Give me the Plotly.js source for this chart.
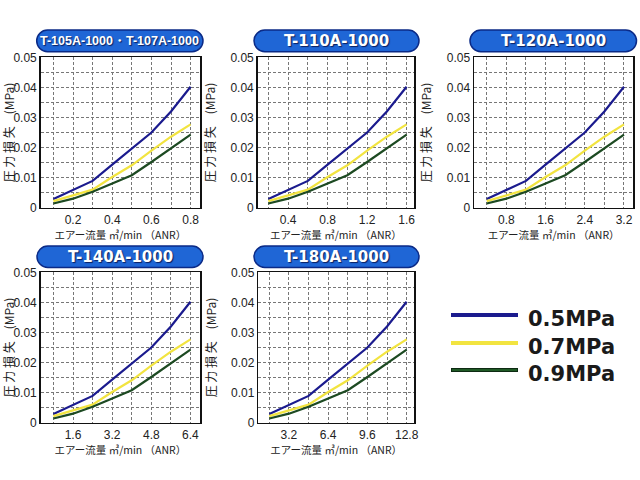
<!DOCTYPE html>
<html><head><meta charset="utf-8">
<script src="https://cdn.plot.ly/plotly-3.0.1.min.js"></script>
<style>html,body{margin:0;padding:0;background:#fff}#c{width:640px;height:480px}</style>
</head><body><div id="c"></div>
<script>
// Model names (titles of each panel)
const models = ["T-105A-1000・T-107A-1000", "T-110A-1000", "T-120A-1000", "T-140A-1000", "T-180A-1000"];
// Air flow (m3/min ANR) for each model
const flowT105 = [0.1, 0.2, 0.3, 0.4, 0.5, 0.6, 0.7, 0.8];
const flowT110 = [0.2, 0.4, 0.6, 0.8, 1.0, 1.2, 1.4, 1.6];
const flowT120 = [0.4, 0.8, 1.2, 1.6, 2.0, 2.4, 2.8, 3.2];
const flowT140 = [0.8, 1.6, 2.4, 3.2, 4.0, 4.8, 5.6, 6.4];
const flowT180 = [1.6, 3.2, 4.8, 6.4, 8.0, 9.6, 11.2, 12.8];
// Pressure loss (MPa) for each supply pressure
const loss05 = [0.0029, 0.0060, 0.0089, 0.0143, 0.0198, 0.0250, 0.0320, 0.0402];
const loss07 = [0.0022, 0.0042, 0.0060, 0.0102, 0.0141, 0.0190, 0.0236, 0.0277];
const loss09 = [0.0014, 0.0030, 0.0053, 0.0080, 0.0108, 0.0152, 0.0198, 0.0243];
const pressures = ["0.5MPa", "0.7MPa", "0.9MPa"];
// x tick spacing and axis ranges per model
const xTickStep = [0.2, 0.4, 0.8, 1.6, 3.2];
const xRanges = [[0.035, 0.848], [0.092, 1.675], [0.14, 3.39], [0.28, 6.79], [0.70, 13.4]];

const flows = [flowT105, flowT110, flowT120, flowT140, flowT180];
const losses = [loss05, loss07, loss09];
const colors = ["#1b1b8e", "#f2e440", "#1d4a22"];

const W = 640, H = 480;
const px = v => v / W, py = v => 1 - v / H;
// plot boxes in pixels [x0, x1, ytop, ybottom]
const boxes = [
  [40.7, 200, 57.3, 207.7],
  [257.7, 414, 57.3, 207.7],
  [474, 633.3, 57.3, 207.7],
  [40.7, 200, 272.3, 422.7],
  [258.3, 414, 272.3, 422.7]
];
const pills = [
  [36.7, 203, 30, 51.7],
  [254, 419, 30, 51.7],
  [470, 636.5, 30, 51.7],
  [37, 203, 246, 267.5],
  [254, 419, 246, 267.5]
];

const font = "Liberation Sans, Arial, sans-serif";
const jfont = "Noto Sans CJK JP, Liberation Sans, sans-serif";
const traces = [];
const layout = {
  width: W, height: H, margin: {l: 0, r: 0, t: 0, b: 0},
  paper_bgcolor: "#fff", plot_bgcolor: "#fff", showlegend: false,
  font: {family: font, color: "#222", size: 12},
  shapes: [], annotations: []
};

for (let i = 0; i < 5; i++) {
  const s = i === 0 ? "" : String(i + 1);
  const b = boxes[i];
  for (let k = 0; k < 3; k++) {
    traces.push({
      type: "scatter", mode: "lines", x: flows[i], y: losses[k],
      name: pressures[k], xaxis: "x" + s, yaxis: "y" + s,
      line: {color: colors[k], width: 2.2}, hoverinfo: "skip"
    });
  }
  const grid = {showgrid: true, gridcolor: "#777", gridwidth: 1, griddash: "3px,2px"};
  layout["xaxis" + s] = Object.assign({
    domain: [px(b[0]), px(b[1])], anchor: "y" + s, range: xRanges[i],
    tick0: 0, dtick: xTickStep[i], tickformat: ".1f", ticks: "",
    showline: true, linecolor: "#111", linewidth: 1.5, mirror: true, zeroline: false,
    tickfont: {size: 12, color: "#222"},
    minor: {dtick: xTickStep[i] / 2, showgrid: true, gridcolor: "#777", griddash: "3px,2px", gridwidth: 1},
    title: {text: "エアー流量 ㎥/min （ANR）", font: {size: 10.5, color: "#222", family: jfont}, standoff: 0}
  }, grid);
  layout["yaxis" + s] = Object.assign({
    domain: [py(b[3]), py(b[2])], anchor: "x" + s, range: [0, 0.05],
    tick0: 0, dtick: 0.01, ticks: "", showline: true, linecolor: "#111", linewidth: 1.5,
    mirror: true, zeroline: false, tickfont: {size: 12, color: "#222"},
    minor: {dtick: 0.005, showgrid: true, gridcolor: "#777", griddash: "3px,2px", gridwidth: 1},
    title: {text: "圧 力 損 失　(MPa)", font: {size: 12, color: "#222", family: jfont}, standoff: 12}
  }, grid);

  // title pill
  const p = pills[i];
  const r = (p[3] - p[2]) / 2;
  const x0 = p[0], x1 = p[1], y0 = p[2], y1 = p[3];
  const path = `M ${px(x0 + r)} ${py(y0)} L ${px(x1 - r)} ${py(y0)} ` +
    `C ${px(x1 - r + r * 0.55)} ${py(y0)} ${px(x1)} ${py(y0 + r - r * 0.55)} ${px(x1)} ${py(y0 + r)} ` +
    `C ${px(x1)} ${py(y1 - r + r * 0.55)} ${px(x1 - r + r * 0.55)} ${py(y1)} ${px(x1 - r)} ${py(y1)} ` +
    `L ${px(x0 + r)} ${py(y1)} ` +
    `C ${px(x0 + r - r * 0.55)} ${py(y1)} ${px(x0)} ${py(y1 - r + r * 0.55)} ${px(x0)} ${py(y1 - r)} ` +
    `C ${px(x0)} ${py(y0 + r - r * 0.55)} ${px(x0 + r - r * 0.55)} ${py(y0)} ${px(x0 + r)} ${py(y0)} Z`;
  layout.shapes.push({type: "path", xref: "paper", yref: "paper", path: path,
    fillcolor: "#1f66d6", line: {color: "#0b2a86", width: 1.5}, layer: "above"});
  layout.annotations.push({
    xref: "paper", yref: "paper", x: px((x0 + x1) / 2), y: py((y0 + y1) / 2),
    xanchor: "center", yanchor: "middle", showarrow: false, text: "<b>" + models[i] + "</b>",
    font: {family: i === 0 ? "Liberation Sans, Arial, sans-serif" : "DejaVu Sans, Arial, sans-serif",
      size: i === 0 ? 12.5 : 15, color: "#fff", shadow: "1px 1px 1px #0a1f60"}
  });
}

// legend (drawn manually)
const legY = [315, 343, 370];
for (let k = 0; k < 3; k++) {
  layout.shapes.push({type: "line", xref: "paper", yref: "paper",
    x0: px(451), x1: px(518), y0: py(legY[k]), y1: py(legY[k]),
    line: {color: k === 2 ? "#0d2a12" : colors[k], width: 4}});
  if (k === 2) layout.shapes.push({type: "line", xref: "paper", yref: "paper",
    x0: px(452), x1: px(517), y0: py(legY[k]), y1: py(legY[k]),
    line: {color: "#1f5a25", width: 2}});
  layout.annotations.push({xref: "paper", yref: "paper", x: px(526), y: py(legY[k] + 4),
    xanchor: "left", yanchor: "middle", showarrow: false, text: "<b>" + pressures[k] + "</b>",
    font: {family: "DejaVu Sans, Arial, sans-serif", size: 21, color: "#1a1a1a"}});
}

Plotly.newPlot("c", traces, layout, {staticPlot: true, displayModeBar: false});
</script>
</body></html>
